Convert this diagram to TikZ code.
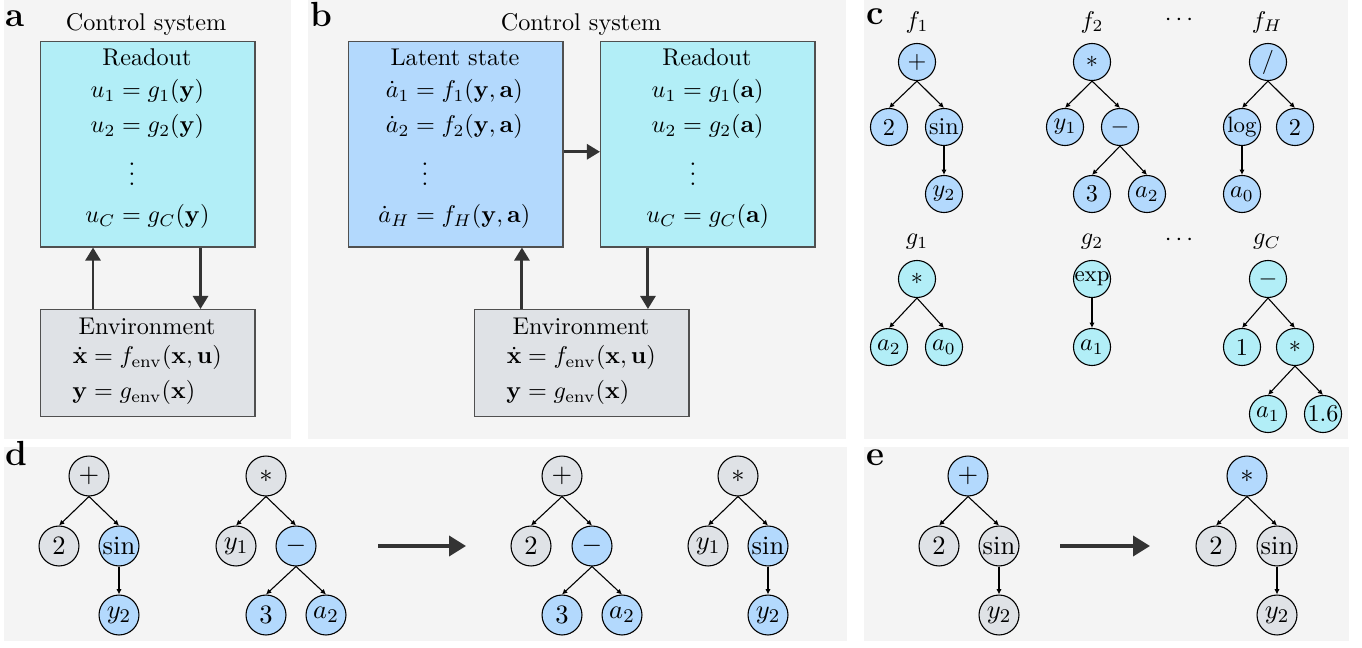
\documentclass[tikz,border=0pt]{standalone}
\usepackage{amsmath}
\usetikzlibrary{arrows.meta}
\definecolor{panelbg}{RGB}{244,244,244}
\definecolor{lblue}{RGB}{179,217,253}
\definecolor{lcyan}{RGB}{178,238,247}
\definecolor{lgray}{RGB}{223,226,230}
\definecolor{boxline}{RGB}{80,80,80}
\definecolor{arrowc}{RGB}{51,51,51}
\newcommand{\eql}[2]{\makebox[13pt][r]{$#1$}${}=#2$}
\newcommand{\tnt}[1]{\makebox[0pt]{#1}}
\newcommand{\tns}[1]{\makebox[0pt]{\fontsize{9.2}{10}\selectfont #1}}
\begin{document}
\begin{tikzpicture}[x=0.413pt,y=-0.413pt,
  bigbox/.style={draw=boxline, line width=0.6pt, anchor=north west, inner sep=0pt, minimum width=88.4pt},
  tallbox/.style={bigbox, minimum height=84.7pt},
  envbox/.style={bigbox, fill=lgray, minimum height=44.2pt},
  eqn/.style={anchor=base west, inner sep=0pt},
  ttl/.style={anchor=base, inner sep=0pt},
  plabel/.style={anchor=base west, inner sep=0pt, font=\Large\bfseries},
  vd/.style={inner sep=0pt},
  bigarrow/.style={draw=arrowc, line width=1.2pt, -{Triangle[length=5.4pt,width=6.2pt]}},
  flowarrow/.style={draw=arrowc, line width=1.35pt, -{Triangle[length=7pt,width=8.3pt]}},
  tn/.style={circle, draw=black, line width=0.45pt, inner sep=0pt, minimum size=15.3pt},
  tnb/.style={tn, fill=lblue}, tnc/.style={tn, fill=lcyan},
  tnD/.style={circle, draw=black, line width=0.45pt, inner sep=0pt, minimum size=16.5pt, font=\fontsize{10.95}{13}\selectfont},
  dg/.style={tnD, fill=lgray}, db/.style={tnD, fill=lblue},
  te/.style={draw=black, line width=0.45pt, -{Latex[length=2.2pt,width=2.2pt]}},
  flab/.style={inner sep=0pt}
]
\useasboundingbox (0,0) rectangle (1362,648);
\fill[white] (0,0) rectangle (1362,648);
\fill[panelbg] (4,0) rectangle (291,439);
\fill[panelbg] (308,0) rectangle (846,439);
\fill[panelbg] (864,0) rectangle (1348,439);
\fill[panelbg] (4,447) rectangle (847,641);
\fill[panelbg] (864,447) rectangle (1349,641);

% ---------- panel a ----------
\node[plabel] (la) at (5,27) {a};
\node[ttl] (atitle) at (146,31) {Control system};
\node[tallbox, fill=lcyan] (aread) at (40,41) {};
\node[envbox] (aenv) at (40,309) {};
\node[ttl] (areadt) at (147,66) {Readout};
\node[eqn] (aeq1) at (83.5,98) {\eql{u_1}{g_1(\mathbf{y})}};
\node[eqn] (aeq2) at (83.5,133) {\eql{u_2}{g_2(\mathbf{y})}};
\node[vd] (avd) at (132,167) {$\vdots$};
\node[eqn] (aeq3) at (83.5,223) {\eql{u_C}{g_C(\mathbf{y})}};
\node[ttl] (aenvt) at (147,334) {Environment};
\node[eqn] (aenv1) at (55.5,364) {\eql{\dot{\mathbf{x}}}{f_{\mathrm{env}}(\mathbf{x},\mathbf{u})}};
\node[eqn] (aenv2) at (55.5,399) {\eql{\mathbf{y}}{g_{\mathrm{env}}(\mathbf{x})}};
\coordinate (aup) at ([xshift=21.9pt]aenv.north west);
\draw[bigarrow] (aup) -- (aup |- aread.south);
\coordinate (adown) at ([xshift=-22.7pt]aread.south east);
\draw[bigarrow] (adown) -- (adown |- aenv.north);

% ---------- panel b ----------
\node[plabel] (lb) at (310,27) {b};
\node[ttl] (btitle) at (581,31) {Control system};
\node[tallbox, fill=lblue] (blat) at (348,41) {};
\node[tallbox, fill=lcyan] (bread) at (600,41) {};
\node[envbox] (benv) at (474,309) {};
\node[ttl] (blatt) at (455,66) {Latent state};
\node[eqn] (beq1) at (377.5,98) {\eql{\dot{a}_1}{f_1(\mathbf{y},\mathbf{a})}};
\node[eqn] (beq2) at (377.5,133) {\eql{\dot{a}_2}{f_2(\mathbf{y},\mathbf{a})}};
\node[vd] (bvd) at (425,167) {$\vdots$};
\node[eqn] (beq3) at (377.5,223) {\eql{\dot{a}_H}{f_H(\mathbf{y},\mathbf{a})}};
\node[ttl] (breadt) at (707,66) {Readout};
\node[eqn] (brq1) at (644.5,98) {\eql{u_1}{g_1(\mathbf{a})}};
\node[eqn] (brq2) at (644.5,133) {\eql{u_2}{g_2(\mathbf{a})}};
\node[vd] (brvd) at (693,167) {$\vdots$};
\node[eqn] (brq3) at (644.5,223) {\eql{u_C}{g_C(\mathbf{a})}};
\node[ttl] (benvt) at (581,334) {Environment};
\node[eqn] (benv1) at (489.5,364) {\eql{\dot{\mathbf{x}}}{f_{\mathrm{env}}(\mathbf{x},\mathbf{u})}};
\node[eqn] (benv2) at (489.5,399) {\eql{\mathbf{y}}{g_{\mathrm{env}}(\mathbf{x})}};
\draw[bigarrow] ([yshift=-3.1pt]blat.east) -- ([yshift=-3.1pt]bread.west);
\coordinate (bup) at ([xshift=19.8pt]benv.north west);
\draw[bigarrow] (bup) -- (bup |- blat.south);
\coordinate (bdown) at ([xshift=19.8pt]bread.south west);
\draw[bigarrow] (bdown) -- (bdown |- benv.north);

% ---------- panel c ----------
\node[plabel] (lc) at (866,25) {c};
\node[flab] at (917,22) {$f_1$};
\node[flab] at (1092,22) {$f_2$};
\node[flab] at (1181,20) {$\cdots$};
\node[flab] at (1267,22) {$f_H$};
\node[tnb] (f1r) at (917,62) {\tnt{$+$}};
\node[tnb] (f1a) at (889,127) {\tnt{2}};
\node[tnb] (f1b) at (944,127) {\tnt{sin}};
\node[tnb] (f1c) at (944,194) {\tnt{$y_2$}};
\draw[te] (f1r.south) -- (f1a.north);
\draw[te] (f1r.south) -- (f1b.north);
\draw[te] (f1b.south) -- (f1c.north);
\node[tnb] (f2r) at (1092,62) {\tnt{$*$}};
\node[tnb] (f2a) at (1065,127) {\tnt{$y_1$}};
\node[tnb] (f2b) at (1120,127) {\tnt{$-$}};
\node[tnb] (f2c) at (1092,194) {\tnt{3}};
\node[tnb] (f2d) at (1147,194) {\tnt{$a_2$}};
\draw[te] (f2r.south) -- (f2a.north);
\draw[te] (f2r.south) -- (f2b.north);
\draw[te] (f2b.south) -- (f2c.north);
\draw[te] (f2b.south) -- (f2d.north);
\node[tnb] (fhr) at (1268,62) {\tnt{$/$}};
\node[tnb] (fha) at (1242,127) {\tns{log}};
\node[tnb] (fhb) at (1295,127) {\tnt{2}};
\node[tnb] (fhc) at (1242,194) {\tnt{$a_0$}};
\draw[te] (fhr.south) -- (fha.north);
\draw[te] (fhr.south) -- (fhb.north);
\draw[te] (fha.south) -- (fhc.north);

\node[flab] at (917,242) {$g_1$};
\node[flab] at (1092,242) {$g_2$};
\node[flab] at (1181,240) {$\cdots$};
\node[flab] at (1267,242) {$g_C$};
\node[tnc] (g1r) at (917,279) {\tnt{$*$}};
\node[tnc] (g1a) at (889,347) {\tnt{$a_2$}};
\node[tnc] (g1b) at (944,347) {\tnt{$a_0$}};
\draw[te] (g1r.south) -- (g1a.north);
\draw[te] (g1r.south) -- (g1b.north);
\node[tnc] (g2r) at (1092,279) {\tns{exp}};
\node[tnc] (g2a) at (1092,347) {\tnt{$a_1$}};
\draw[te] (g2r.south) -- (g2a.north);
\node[tnc] (gcr) at (1268,279) {\tnt{$-$}};
\node[tnc] (gca) at (1242,347) {\tnt{1}};
\node[tnc] (gcb) at (1295,347) {\tnt{$*$}};
\node[tnc] (gcc) at (1268,414) {\tnt{$a_1$}};
\node[tnc] (gcd) at (1323,414) {\tnt{1.6}};
\draw[te] (gcr.south) -- (gca.north);
\draw[te] (gcr.south) -- (gcb.north);
\draw[te] (gcb.south) -- (gcc.north);
\draw[te] (gcb.south) -- (gcd.north);

% ---------- panel d ----------
\node[plabel] (ld) at (5,465) {d};
\node[dg] (d1r) at (89,476) {\tnt{$+$}};
\node[dg] (d1a) at (59,546) {\tnt{2}};
\node[db] (d1b) at (119,546) {\tnt{sin}};
\node[db] (d1c) at (119,615) {\tnt{$y_2$}};
\draw[te] (d1r.south) -- (d1a.north);
\draw[te] (d1r.south) -- (d1b.north);
\draw[te] (d1b.south) -- (d1c.north);
\node[dg] (d2r) at (266,476) {\tnt{$*$}};
\node[dg] (d2a) at (236,546) {\tnt{$y_1$}};
\node[db] (d2b) at (296,546) {\tnt{$-$}};
\node[db] (d2c) at (266,615) {\tnt{3}};
\node[db] (d2d) at (326,615) {\tnt{$a_2$}};
\draw[te] (d2r.south) -- (d2a.north);
\draw[te] (d2r.south) -- (d2b.north);
\draw[te] (d2b.south) -- (d2c.north);
\draw[te] (d2b.south) -- (d2d.north);
\coordinate (dst) at (378,546);
\coordinate (den) at (466,546);
\draw[flowarrow] (dst) -- (den);
\node[dg] (d3r) at (562,476) {\tnt{$+$}};
\node[dg] (d3a) at (531,546) {\tnt{2}};
\node[db] (d3b) at (592,546) {\tnt{$-$}};
\node[db] (d3c) at (562,615) {\tnt{3}};
\node[db] (d3d) at (622,615) {\tnt{$a_2$}};
\draw[te] (d3r.south) -- (d3a.north);
\draw[te] (d3r.south) -- (d3b.north);
\draw[te] (d3b.south) -- (d3c.north);
\draw[te] (d3b.south) -- (d3d.north);
\node[dg] (d4r) at (738,476) {\tnt{$*$}};
\node[dg] (d4a) at (708,546) {\tnt{$y_1$}};
\node[db] (d4b) at (768,546) {\tnt{sin}};
\node[db] (d4c) at (768,615) {\tnt{$y_2$}};
\draw[te] (d4r.south) -- (d4a.north);
\draw[te] (d4r.south) -- (d4b.north);
\draw[te] (d4b.south) -- (d4c.north);

% ---------- panel e ----------
\node[plabel] (le) at (866,465) {e};
\node[db] (e1r) at (968,476) {\tnt{$+$}};
\node[dg] (e1a) at (939,546) {\tnt{2}};
\node[dg] (e1b) at (999,546) {\tnt{sin}};
\node[dg] (e1c) at (999,615) {\tnt{$y_2$}};
\draw[te] (e1r.south) -- (e1a.north);
\draw[te] (e1r.south) -- (e1b.north);
\draw[te] (e1b.south) -- (e1c.north);
\coordinate (est) at (1060,546);
\coordinate (een) at (1150,546);
\draw[flowarrow] (est) -- (een);
\node[db] (e2r) at (1247,476) {\tnt{$*$}};
\node[dg] (e2a) at (1216,546) {\tnt{2}};
\node[dg] (e2b) at (1277,546) {\tnt{sin}};
\node[dg] (e2c) at (1277,615) {\tnt{$y_2$}};
\draw[te] (e2r.south) -- (e2a.north);
\draw[te] (e2r.south) -- (e2b.north);
\draw[te] (e2b.south) -- (e2c.north);
\end{tikzpicture}
\end{document}
